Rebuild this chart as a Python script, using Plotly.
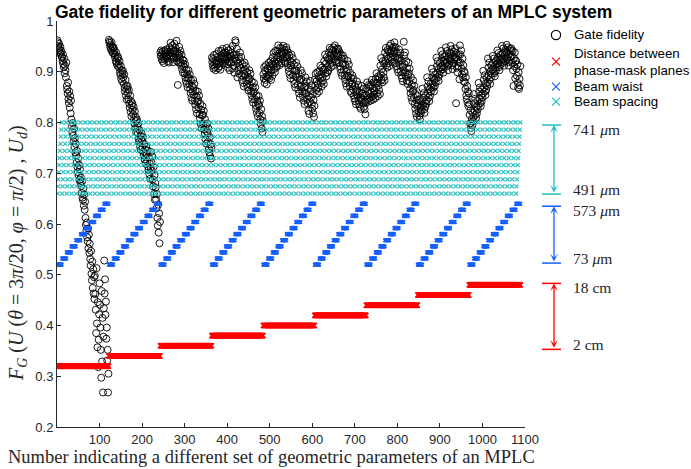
import numpy as np
import plotly.graph_objects as go

# ---------------- data ----------------
distance_cm = [2, 4, 6, 8, 10, 12, 14, 16, 18]
waist_um = [73, 123, 173, 223, 273, 323, 373, 423, 473, 523, 573]
spacing_um = [491, 516, 541, 566, 591, 616, 641, 666, 691, 716, 741]

# gate fidelity (x1000), one string per distance block of 121 parameter sets
fid_block1 = """962 958 951 947 955 943 938 949 935 941 930
928 921 934 915 909 926 897 912 903 889 918
872 865 857 879 846 838 861 829 852 818 843
806 792 781 799 774 763 788 752 769 741 758
735 721 744 712 702 729 695 716 687 708 681
692 675 661 684 652 647 670 636 658 628 644
612 598 587 603 574 566 591 552 579 543 561
531 518 547 502 489 526 474 511 463 495 452
498 462 431 385 513 404 357 446 318 372 422
483 441 396 352 297 468 329 415 268 378 434
528 463 491 421 447 374 396 331 352 268 305"""
fid_block2 = """963 957 960 949 953 944 958 941 950 937 946
948 936 942 929 933 921 938 917 926 912 930
927 915 908 921 899 894 911 886 903 881 897
902 889 876 895 868 861 884 853 872 845 866
872 858 846 864 837 829 853 821 842 812 834
838 825 816 831 806 798 822 789 811 781 803
806 791 779 798 768 762 785 753 774 746 767
778 763 751 771 742 735 758 727 747 719 739
752 738 724 745 713 706 731 698 719 689 711
742 721 705 733 688 674 712 659 696 648 681
672 648 631 659 612 597 638 583 621 562 604"""
fid_block3 = """938 931 942 925 935 921 940 928 917 933 924
941 936 929 944 932 926 939 921 934 918 930
948 939 957 931 944 925 952 936 919 941 928
955 942 936 947 928 961 921 939 874 933 918
949 935 926 941 918 912 933 905 924 898 915
922 909 897 915 889 882 904 876 895 869 887
903 888 876 895 866 858 883 849 872 843 861
884 868 854 876 843 835 862 826 851 818 841
861 844 829 853 816 808 837 797 825 789 814
832 815 798 823 786 777 806 767 794 758 782
798 779 762 788 748 741 771 734 757 729 752"""
fid_block4 = """928 919 912 925 906 933 915 909 922 903 917
935 922 914 929 907 941 918 911 926 904 920
941 932 925 945 919 936 928 916 938 922 930
938 924 947 915 931 908 942 919 927 903 935
944 929 918 937 906 951 921 912 933 898 926
962 958 934 921 945 889 917 903 929 896 912
938 921 907 929 893 884 915 878 902 871 896
918 904 893 911 882 876 899 869 889 863 884
903 887 874 896 862 854 881 846 869 839 858
878 861 846 869 834 827 853 819 842 812 836
852 834 819 843 806 797 826 788 812 781 803"""
fid_block5 = """895 887 909 878 902 884 913 891 875 906 889
906 893 918 887 911 898 921 884 903 915 892
928 914 937 905 921 899 941 916 908 932 911
941 928 952 919 936 913 947 925 931 917 939
946 934 925 951 938 921 943 929 917 935 948
943 929 916 938 908 901 932 894 921 887 912
934 918 905 927 893 884 914 876 902 869 891
918 902 889 911 874 865 896 857 884 849 871
903 886 872 897 861 852 881 843 869 836 858
889 872 858 881 846 838 866 823 852 817 841
882 864 849 873 836 827 856 818 844 811 833"""
fid_block6 = """885 872 896 864 881 857 899 876 868 891 861
901 886 912 878 895 871 908 889 882 904 876
921 905 934 897 916 891 929 909 899 925 903
938 923 947 915 932 909 944 926 918 941 912
948 934 925 952 939 921 944 931 918 936 946
944 931 918 939 911 905 934 898 926 892 916
932 917 904 926 893 885 913 877 901 871 892
921 905 891 914 879 871 898 862 888 858 876
893 877 865 886 853 847 872 842 861 836 856
881 864 852 874 843 836 859 831 849 827 845
872 857 846 866 838 831 853 826 842 816 839"""
fid_block7 = """868 853 879 846 862 841 874 857 849 871 843
874 859 884 851 868 845 879 862 855 877 848
886 869 897 858 878 852 891 873 864 889 856
912 895 927 884 905 879 921 899 889 916 883
938 922 947 913 931 908 943 925 917 940 911
951 937 928 955 942 924 947 933 919 939 949
958 941 929 948 917 911 937 905 927 899 921
944 927 913 937 901 893 922 887 909 881 898
959 932 915 938 899 891 921 882 907 876 894
918 897 881 906 867 858 889 849 874 842 862
883 864 849 872 836 827 856 818 844 811 832"""
fid_block8 = """852 836 821 845 813 806 829 818 841 824 833
867 849 834 858 826 819 841 831 853 837 844
889 871 858 881 849 842 866 853 876 861 869
906 889 876 899 869 861 884 872 894 879 887
928 911 897 921 889 882 906 894 917 901 909
941 925 912 934 905 898 921 909 931 916 924
948 932 918 941 911 903 929 914 937 921 926
951 936 921 944 913 905 931 917 939 924 928
946 929 838 937 908 899 924 911 933 918 885
952 934 918 942 906 895 926 889 913 881 901
898 879 866 889 853 846 872 839 861 832 857"""
fid_block9 = """836 815 798 824 789 783 807 794 819 802 811
856 838 823 847 815 809 831 818 842 826 834
878 861 847 869 838 832 854 841 865 849 857
902 884 869 893 861 854 877 864 888 872 879
926 908 893 918 884 876 901 889 912 896 904
931 917 905 926 897 891 913 901 922 909 916
942 928 917 937 909 903 924 913 934 919 927
951 936 925 946 918 912 933 921 943 928 939
953 938 926 948 919 912 935 922 945 929 941
946 931 918 941 903 872 927 911 938 887 922
921 906 892 914 878 869 899 866 886 873 911"""

fid_blocks = [fid_block1, fid_block2, fid_block3, fid_block4, fid_block5,
              fid_block6, fid_block7, fid_block8, fid_block9]
fidelity = np.concatenate([np.array(b.split(), dtype=float) / 1000.0 for b in fid_blocks])

# parameter sweep: distance (outer) x waist x spacing (inner)
dist = np.repeat(distance_cm, len(waist_um) * len(spacing_um))
waist = np.tile(np.repeat(waist_um, len(spacing_um)), len(distance_cm))
spacing = np.tile(spacing_um, len(distance_cm) * len(waist_um))
set_no = np.arange(1, len(fidelity) + 1)

# display bands (normalised parameter values drawn on the fidelity axis)
red_band = (0.32, 0.48)
blue_band = (0.52, 0.64)
cyan_band = (0.66, 0.80)


def to_band(v, band):
    v = np.asarray(v, dtype=float)
    return band[0] + (v - v.min()) / (v.max() - v.min()) * (band[1] - band[0])


RED = "#ff0000"
BLUE = "#1760ff"
CYAN = "#1fbfbf"
AXC = "#262626"

# arrow annotation ranges (label positions)
arrow_specs = [
    (0.795, 0.659, CYAN, "741 <i>μ</i>m", "491 <i>μ</i>m"),
    (0.635, 0.523, BLUE, "573 <i>μ</i>m", "73 <i>μ</i>m"),
    (0.483, 0.353, RED, "18 cm", "2 cm"),
]

legend_items = [
    ("circle", "black", ["Gate fidelity"]),
    ("x", RED, ["Distance between", "phase-mask planes"]),
    ("x", BLUE, ["Beam waist"]),
    ("x", CYAN, ["Beam spacing"]),
]

fig = go.Figure()

fig.add_trace(go.Scatter(x=set_no, y=fidelity, mode="markers", name="Gate fidelity",
                         marker=dict(symbol="circle-open", size=7, color="black",
                                     line=dict(width=0.9, color="black"))))
fig.add_trace(go.Scatter(x=set_no, y=to_band(dist, red_band), mode="markers",
                         name="Distance between phase-mask planes",
                         marker=dict(symbol="x-thin", size=5, line=dict(width=1.5, color=RED))))
fig.add_trace(go.Scatter(x=set_no, y=to_band(waist, blue_band), mode="markers", name="Beam waist",
                         marker=dict(symbol="x-thin", size=3.5, line=dict(width=1.6, color=BLUE))))
fig.add_trace(go.Scatter(x=set_no, y=to_band(spacing, cyan_band), mode="markers", name="Beam spacing",
                         marker=dict(symbol="x-thin", size=4, line=dict(width=1.1, color=CYAN))))

L, R, T, B = 57, 166, 21, 42
W, H = 691, 469
pw = W - L - R
ph = H - T - B


def px2paper_x(px):
    return (px - L) / pw


def px2paper_y(py):
    return (H - B - py) / ph


annotations = []
shapes = []

# ---- legend (drawn manually to reproduce the compact spacing) ----
sym_x = px2paper_x(556)
text_x = px2paper_x(572)
leg_rows = [35, 61.7, 86.7, 101.7]
for (sym, col, lines), yc in zip(legend_items, leg_rows):
    yp = px2paper_y(yc)
    if sym == "circle":
        shapes.append(dict(type="circle", xref="paper", yref="paper", xsizemode="pixel", ysizemode="pixel",
                           xanchor=sym_x, yanchor=yp, x0=-4.6, x1=4.6, y0=-4.6, y1=4.6,
                           line=dict(color=col, width=1.2)))
    else:
        for sgn in (1, -1):
            shapes.append(dict(type="line", xref="paper", yref="paper", xsizemode="pixel",
                               ysizemode="pixel", xanchor=sym_x, yanchor=yp,
                               x0=-4, x1=4, y0=-4 * sgn, y1=4 * sgn, line=dict(color=col, width=1.2)))
    n = len(lines)
    for k, t in enumerate(lines):
        dy = (k - (n - 1) / 2) * 16.7
        annotations.append(dict(xref="paper", yref="paper", x=text_x, y=px2paper_y(yc + dy), text=t,
                                showarrow=False, xanchor="left", yanchor="middle",
                                font=dict(family="Liberation Sans", size=13.3, color="black")))

# ---- range arrows at the right ----
arrow_x = px2paper_x(554)
cap0, cap1 = px2paper_x(542), px2paper_x(561)
label_x = px2paper_x(571)
for ytop, ybot, col, ttop, tbot in arrow_specs:
    annotations.append(dict(xref="paper", yref="y", x=arrow_x, y=ytop, axref="pixel", ayref="y",
                            ax=0, ay=ybot, showarrow=True, arrowhead=3, startarrowhead=3,
                            arrowside="end+start", arrowsize=1, startarrowsize=1, arrowwidth=1.3,
                            arrowcolor=col, standoff=0, startstandoff=0, text=""))
    for yy in (ytop, ybot):
        shapes.append(dict(type="line", xref="paper", yref="y", x0=cap0, x1=cap1, y0=yy, y1=yy,
                           line=dict(color=col, width=1.5)))
    annotations.append(dict(xref="paper", yref="y", x=label_x, y=ytop - 0.009, text=ttop, showarrow=False,
                            xanchor="left", yanchor="middle",
                            font=dict(family="Liberation Serif", size=15.5, color=AXC)))
    annotations.append(dict(xref="paper", yref="y", x=label_x, y=ybot + 0.009, text=tbot, showarrow=False,
                            xanchor="left", yanchor="middle",
                            font=dict(family="Liberation Serif", size=15.5, color=AXC)))

# title
annotations.append(dict(xref="paper", yref="paper", x=px2paper_x(333), y=px2paper_y(12),
                        text="<b>Gate fidelity for different geometric parameters of an MPLC system</b>",
                        showarrow=False, xanchor="center", yanchor="middle",
                        font=dict(family="Liberation Sans", size=17.5, color="black")))
# x label
annotations.append(dict(xref="paper", yref="paper", x=px2paper_x(271), y=px2paper_y(457),
                        text="Number indicating a different set of geometric parameters of an MPLC",
                        showarrow=False, xanchor="center", yanchor="middle",
                        font=dict(family="Liberation Serif", size=18.5, color=AXC)))
# y label
annotations.append(dict(xref="paper", yref="paper", x=px2paper_x(17), y=px2paper_y(253),
                        text="<i>F</i><sub><i>G</i></sub> (<i>U</i> (<i>θ</i> = 3<i>π</i>/20, <i>φ</i> = <i>π</i>/2) , <i>U</i><sub><i>d</i></sub>)",
                        showarrow=False, xanchor="center", yanchor="middle", textangle=-90,
                        font=dict(family="Liberation Serif", size=20, color=AXC)))

fig.update_layout(
    width=W, height=H,
    margin=dict(l=L, r=R, t=T, b=B, autoexpand=False),
    plot_bgcolor="white", paper_bgcolor="white",
    showlegend=False,
    annotations=annotations,
    shapes=shapes,
    xaxis=dict(range=[0, 1100], tickvals=list(range(100, 1101, 100)), ticks="inside", ticklen=4,
               tickcolor=AXC, showline=True, linecolor=AXC, linewidth=1, showgrid=False, zeroline=False,
               tickfont=dict(family="Liberation Sans", size=13, color=AXC), mirror=False),
    yaxis=dict(range=[0.2, 1.0], dtick=0.1, tick0=0.2, ticks="inside", ticklen=4,
               tickcolor=AXC, showline=True, linecolor=AXC, linewidth=1, showgrid=False, zeroline=False,
               tickfont=dict(family="Liberation Sans", size=13, color=AXC), mirror=False),
)

fig.write_html("out.html")
